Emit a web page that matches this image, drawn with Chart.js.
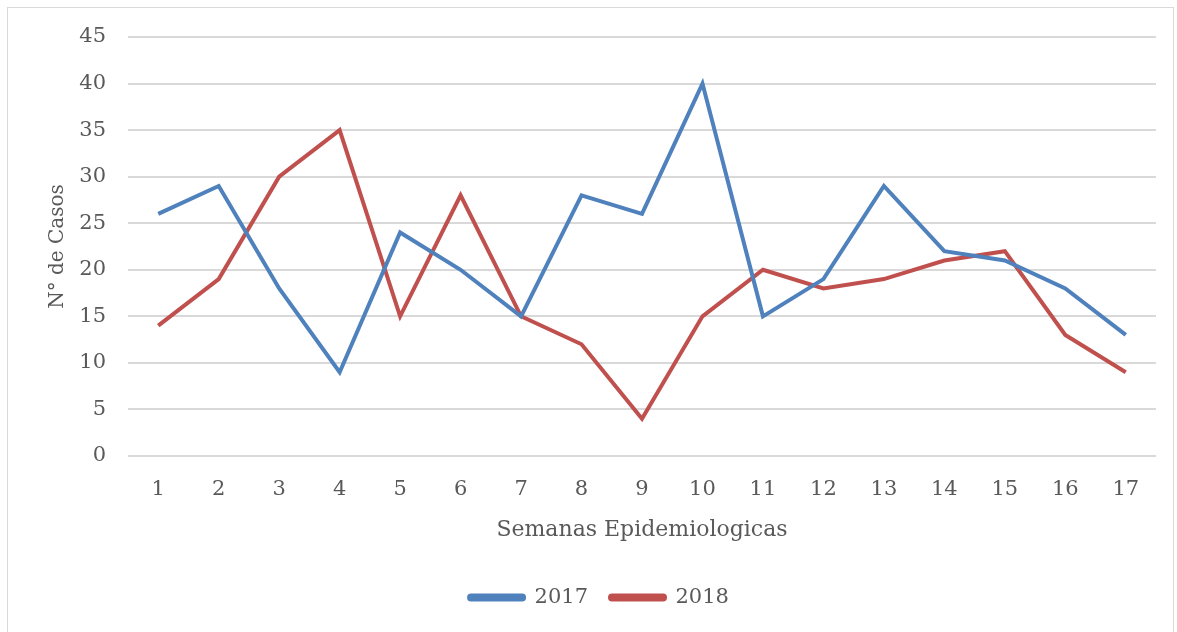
<!DOCTYPE html>
<html>
<head>
<meta charset="utf-8">
<script src="https://cdn.jsdelivr.net/npm/chart.js@4.4.1/dist/chart.umd.min.js"></script>
<style>
  html, body { margin: 0; padding: 0; background: #fff; }
  .frame { position: absolute; left: 7px; top: 7px; width: 1167px; height: 640px; border: 1px solid #d9d9d9; box-sizing: border-box; }
  .wrap { position: absolute; left: 0; top: 0; width: 1177px; height: 632px; }
</style>
</head>
<body>
<div class="frame"></div>
<div class="wrap"><canvas id="chart"></canvas></div>
<script>
// Semanas epidemiológicas y casos por año
const semanas = ['1','2','3','4','5','6','7','8','9','10','11','12','13','14','15','16','17'];
const casos2017 = [26, 29, 18, 9, 24, 20, 15, 28, 26, 40, 15, 19, 29, 22, 21, 18, 13];
const casos2018 = [14, 19, 30, 35, 15, 28, 15, 12, 4, 15, 20, 18, 19, 21, 22, 13, 9];
const yTicks = [0, 5, 10, 15, 20, 25, 30, 35, 40, 45];

const FONT = "'DejaVu Serif', serif";
const TXT = '#595959';

new Chart(document.getElementById('chart'), {
  type: 'line',
  data: {
    labels: semanas,
    datasets: [{
      label: '2017',
      data: casos2017,
      borderColor: '#4f81bd',
      backgroundColor: '#4f81bd',
      borderWidth: 4,
      pointRadius: 0,
      tension: 0
    }, {
      label: '2018',
      data: casos2018,
      borderColor: '#c0504d',
      backgroundColor: '#c0504d',
      borderWidth: 4,
      pointRadius: 0,
      tension: 0
    }]
  },
  options: {
    responsive: true,
    maintainAspectRatio: false,
    animation: false,
    layout: { padding: { top: 37, right: 21, bottom: 14, left: 42 } },
    plugins: {
      tooltip: { enabled: false },
      legend: {
        position: 'bottom',
        labels: {
          color: TXT,
          font: { family: FONT, size: 21 },
          boxWidth: 55,
          boxHeight: 4,
          padding: 22,
          useBorderRadius: true,
          borderRadius: 2
        }
      }
    },
    scales: {
      x: {
        offset: true,
        grid: { display: false },
        border: { display: false },
        ticks: { color: TXT, font: { family: FONT, size: 21 }, padding: 13, maxRotation: 0 },
        title: { display: true, text: 'Semanas Epidemiologicas', color: TXT, font: { family: FONT, size: 22 }, padding: { top: 0, bottom: 22 } },
        afterFit: s => { s.height = 109; }
      },
      y: {
        min: 0,
        max: 45,
        afterBuildTicks: s => { s.ticks = yTicks.map(v => ({ value: v })); },
        grid: { color: '#d9d9d9', lineWidth: 2, drawTicks: false },
        border: { display: false },
        ticks: { color: TXT, font: { family: FONT, size: 21 }, padding: 22 },
        title: { display: true, text: 'N° de Casos', color: TXT, font: { family: FONT, size: 20 }, padding: { top: 4, bottom: 0 } },
        afterFit: s => { s.width = 86; }
      }
    }
  }
});
</script>
</body>
</html>
